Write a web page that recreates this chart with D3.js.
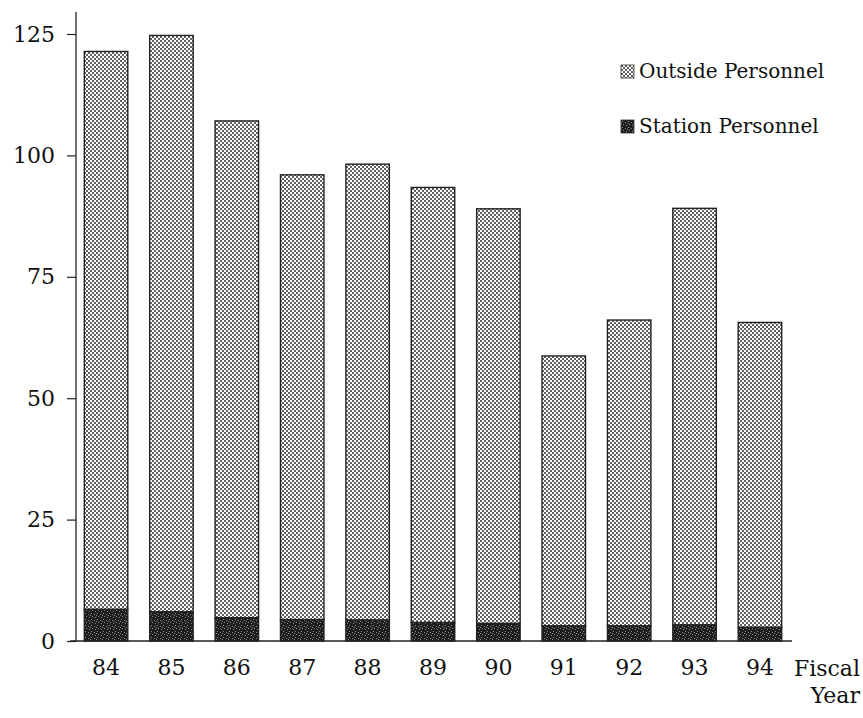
<!DOCTYPE html>
<html>
<head>
<meta charset="utf-8">
<script src="https://cdn.jsdelivr.net/npm/d3@7"></script>
<style>
  html, body { margin: 0; padding: 0; background: #fff; }
  svg { display: block; }
  text { font-family: "DejaVu Serif", "Liberation Serif", serif; fill: #111; }
</style>
</head>
<body>
<svg id="chart" width="863" height="718"></svg>
<script>
// ---- data ----
const years = ["84", "85", "86", "87", "88", "89", "90", "91", "92", "93", "94"];
const stationPersonnel = [6.5, 6.0, 4.8, 4.4, 4.3, 3.8, 3.6, 3.1, 3.1, 3.3, 2.8];
const outsidePersonnel = [114.9, 118.7, 102.3, 91.6, 93.9, 89.6, 85.4, 55.6, 63.0, 85.8, 62.8];
const yTicks = [0, 25, 50, 75, 100, 125];
const seriesNames = ["Outside Personnel", "Station Personnel"];

const svg = d3.select("#chart");
const defs = svg.append("defs");

// stipple pattern (outside personnel)
const p1 = defs.append("pattern").attr("id", "dots").attr("patternUnits", "userSpaceOnUse")
  .attr("width", 4).attr("height", 4);
p1.append("rect").attr("width", 4).attr("height", 4).attr("fill", "#fff");
p1.append("rect").attr("x", 0.15).attr("y", 0.15).attr("width", 1.7).attr("height", 1.7).attr("fill", "#262626");
p1.append("rect").attr("x", 2.15).attr("y", 2.15).attr("width", 1.7).attr("height", 1.7).attr("fill", "#262626");

// dark noisy pattern (station personnel)
const p2 = defs.append("pattern").attr("id", "dark").attr("patternUnits", "userSpaceOnUse")
  .attr("width", 6).attr("height", 6);
p2.append("rect").attr("width", 6).attr("height", 6).attr("fill", "#1e1e1e");
[[1,1],[4,2],[2,4],[5,5],[0,3]].forEach(([x,y]) =>
  p2.append("rect").attr("x", x).attr("y", y).attr("width", 1).attr("height", 1).attr("fill", "#8a8a8a"));

const x = d3.scaleBand().domain(years).range([76, 790]).paddingInner(0.335).paddingOuter(0.127);
const y = d3.scaleLinear().domain([0, 125]).range([641, 34]);

// bars
const stack = years.map((yr, i) => ({ yr, s: stationPersonnel[i], o: outsidePersonnel[i] }));
const g = svg.append("g");
g.selectAll(".outside").data(stack).join("rect")
  .attr("x", d => x(d.yr)).attr("width", x.bandwidth())
  .attr("y", d => y(d.s + d.o)).attr("height", d => y(d.s) - y(d.s + d.o))
  .attr("fill", "url(#dots)").attr("stroke", "#222").attr("stroke-width", 1.4);
g.selectAll(".station").data(stack).join("rect")
  .attr("x", d => x(d.yr)).attr("width", x.bandwidth())
  .attr("y", d => y(d.s)).attr("height", d => y(0) - y(d.s))
  .attr("fill", "url(#dark)").attr("stroke", "#222").attr("stroke-width", 1.4);

// y axis
const yAxis = svg.append("g").attr("transform", "translate(76,0)")
  .call(d3.axisLeft(y).tickValues(yTicks).tickSize(9).tickPadding(12).tickSizeOuter(0));
yAxis.select(".domain").attr("d", `M0,12V${y(0)}`).attr("stroke", "#222").attr("stroke-width", 1.3);
yAxis.selectAll(".tick line").attr("stroke", "#222").attr("stroke-width", 1.2);
yAxis.selectAll(".tick text").attr("font-size", 22).attr("font-family", "DejaVu Serif").attr("fill", "#111");

// x axis
const xAxis = svg.append("g").attr("transform", `translate(0,${y(0)})`)
  .call(d3.axisBottom(x).tickSize(0).tickPadding(18));
xAxis.select(".domain").attr("d", "M70,0H792").attr("stroke", "#222").attr("stroke-width", 1.3);
xAxis.selectAll(".tick text").attr("font-size", 22).attr("font-family", "DejaVu Serif").attr("fill", "#111")
  .attr("dy", "0.71em");

svg.append("text").attr("x", 860).attr("y", 676).attr("text-anchor", "end").attr("font-size", 22).text("Fiscal");
svg.append("text").attr("x", 860).attr("y", 703).attr("text-anchor", "end").attr("font-size", 22).text("Year");

// legend
const legend = svg.append("g").attr("transform", "translate(621,65)");
const fills = ["url(#dots)", "url(#dark)"];
seriesNames.forEach((name, i) => {
  const row = legend.append("g").attr("transform", `translate(0,${i * 55})`);
  row.append("rect").attr("width", 13).attr("height", 13).attr("fill", fills[i]).attr("stroke", "#333").attr("stroke-width", 0.8);
  row.append("text").attr("x", 18).attr("y", 13).attr("font-size", 20).text(name);
});
</script>
</body>
</html>
